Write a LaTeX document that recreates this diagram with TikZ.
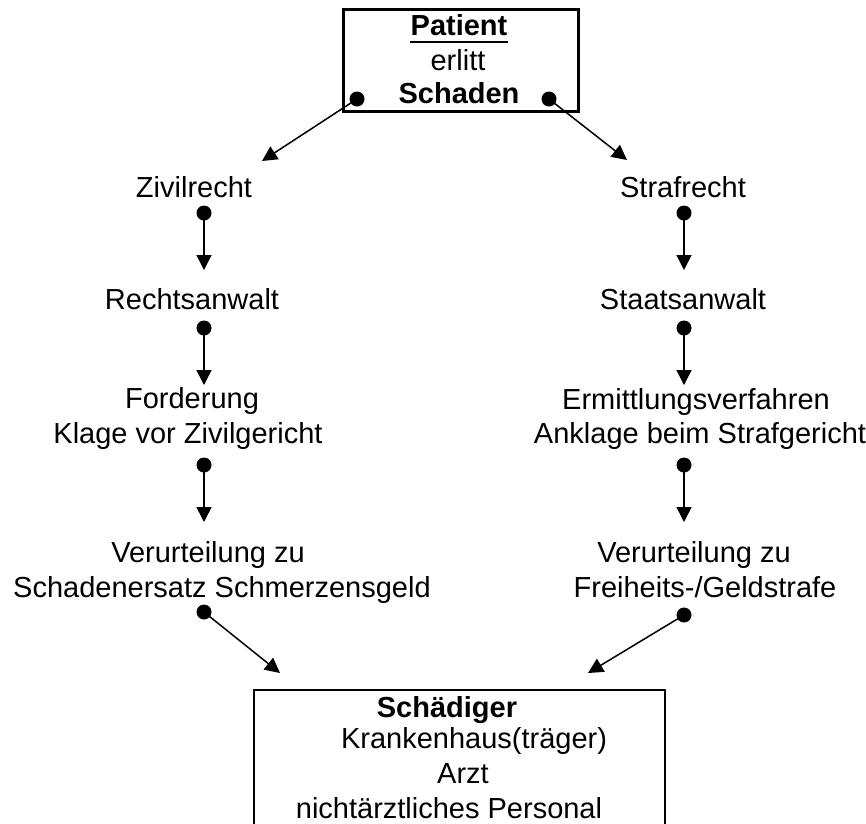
\documentclass[tikz,border=0pt]{standalone}
\usepackage{fontspec}
\setmainfont{Liberation Sans}
\usetikzlibrary{arrows.meta}
\begin{document}
\begin{tikzpicture}[x=1pt,y=-1pt,
  lbl/.style={anchor=base, inner sep=0pt, font=\fontsize{29}{33}\selectfont},
  bl/.style={anchor=base, inner sep=0pt, font=\fontsize{29}{33}\selectfont\bfseries},
  dot/.style={circle, fill=black, inner sep=0pt, minimum size=15pt},
  conn/.style={line width=1.5pt, -{Triangle[length=15pt,width=15pt]}},
  frame/.style={line width=2.5pt}]
\useasboundingbox (0,0) rectangle (866,823);

% top box
\node[draw, frame, minimum width=235pt, minimum height=102pt, anchor=north west, inner sep=0pt] (topbox) at (342,8) {};
\node[bl] (patient) at (459,35) {Patient};
\draw[line width=2.5pt] ([yshift=-7pt]patient.base west) -- ([yshift=-7pt]patient.base east);
\node[lbl] (erlitt) at (458,70) {erlitt};
\node[bl] (schaden) at (459,103) {Schaden};
\node[dot] (dtl) at (357,99) {};
\node[dot] (dtr) at (549,99) {};
\coordinate (ttl) at (262,161);
\coordinate (ttr) at (627,160);
\draw[conn] (dtl.center) -- (ttl);
\draw[conn] (dtr.center) -- (ttr);

% left column
\node[lbl] (zr) at (194,197) {Zivilrecht};
\node[dot] (dl1) at (204,213) {};
\coordinate (tl1) at (204,270);
\draw[conn] (dl1.center) -- (tl1);
\node[lbl] (ra) at (192,309) {Rechtsanwalt};
\node[dot] (dl2) at (204,328) {};
\coordinate (tl2) at (204,385);
\draw[conn] (dl2.center) -- (tl2);
\node[lbl] (fo) at (192,408) {Forderung};
\node[lbl] (kl) at (188,443) {Klage vor Zivilgericht};
\node[dot] (dl3) at (204,465) {};
\coordinate (tl3) at (204,522);
\draw[conn] (dl3.center) -- (tl3);
\node[lbl] (vl) at (208,562) {Verurteilung zu};
\node[lbl] (se) at (222,597) {Schadenersatz Schmerzensgeld};
\node[dot] (dl4) at (204,612) {};
\coordinate (tl4) at (280,673);
\draw[conn] (dl4.center) -- (tl4);

% right column
\node[lbl] (sr) at (683,197) {Strafrecht};
\node[dot] (dr1) at (684,213) {};
\coordinate (tr1) at (684,270);
\draw[conn] (dr1.center) -- (tr1);
\node[lbl] (sa) at (683,309) {Staatsanwalt};
\node[dot] (dr2) at (684,328) {};
\coordinate (tr2) at (684,385);
\draw[conn] (dr2.center) -- (tr2);
\node[lbl] (er) at (696,409) {Ermittlungsverfahren};
\node[lbl] (an) at (700,443) {Anklage beim Strafgericht};
\node[dot] (dr3) at (684,465) {};
\coordinate (tr3) at (684,522);
\draw[conn] (dr3.center) -- (tr3);
\node[lbl] (vr) at (694,562) {Verurteilung zu};
\node[lbl] (fg) at (705,597) {Freiheits-/Geldstrafe};
\node[dot] (dr4) at (684,615) {};
\coordinate (tr4) at (588,673);
\draw[conn] (dr4.center) -- (tr4);

% bottom box (open at the bottom edge)
\draw[frame] (254,828) -- (254,690) -- (665,690) -- (665,828);
\node[bl] (sch) at (447,717) {Schädiger};
\node[lbl] (kh) at (474,748) {Krankenhaus(träger)};
\node[lbl] (arzt) at (463,783) {Arzt};
\node[lbl] (np) at (449,818) {nichtärztliches Personal};
\end{tikzpicture}
\end{document}
